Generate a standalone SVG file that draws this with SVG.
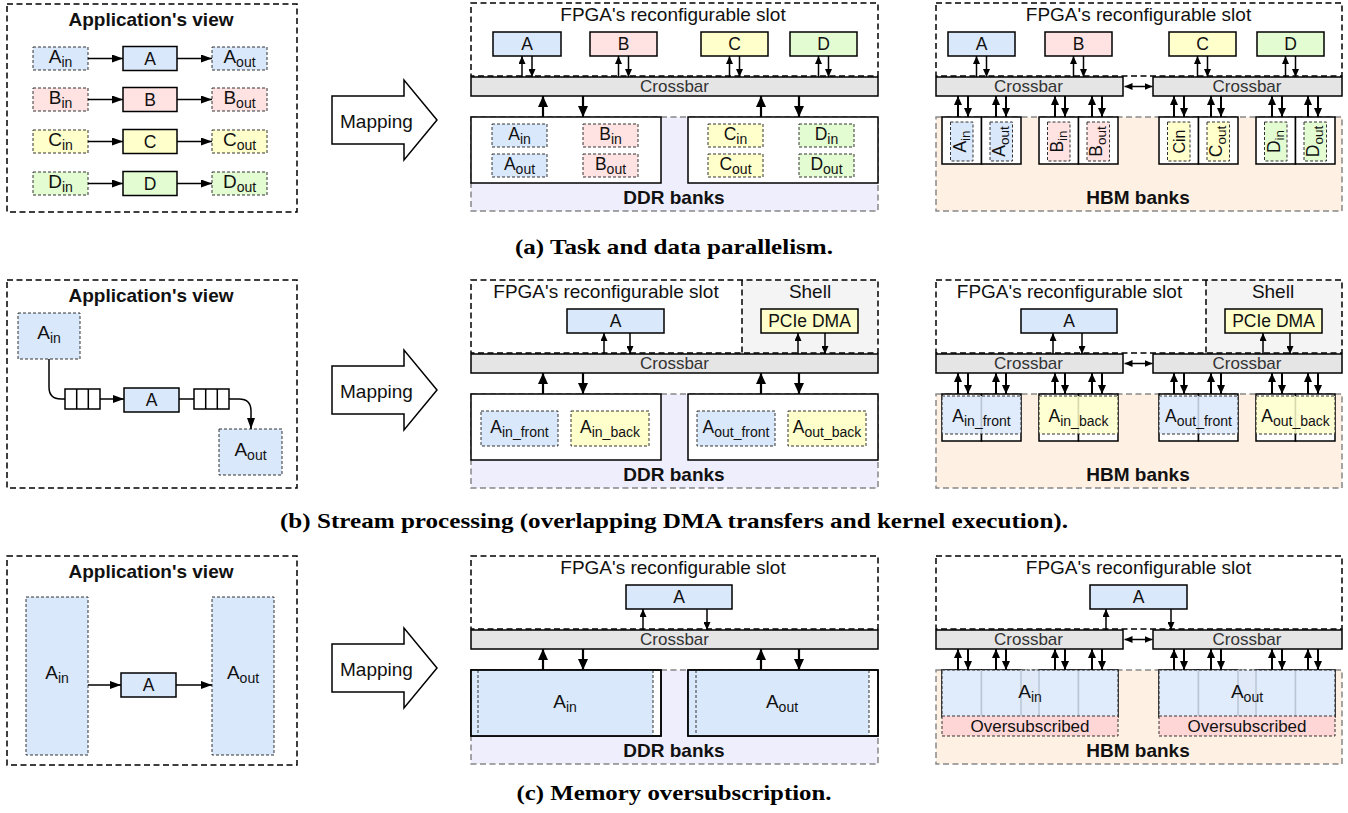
<svg xmlns="http://www.w3.org/2000/svg" width="1348" height="813" viewBox="0 0 1348 813">
<defs>
<style>
text { font-family: "Liberation Sans", Arial, sans-serif; fill: #111; }
.c { text-anchor: middle; }
.ttl { font-size: 19px; }
.bt { font-size: 19px; font-weight: bold; }
.kl { font-size: 17.5px; }
.xl { font-size: 17px; fill: #333; }
.dl { font-size: 19px; }
.ml { font-size: 17.5px; }
.sb { font-size: 14px; }
.sbs { font-size: 13.5px; }
.cap { font-family: "Liberation Serif", "Times New Roman", serif; font-size: 21px; font-weight: bold; text-anchor: middle; fill: #000; }
.view, .slot { fill: none; stroke: #000; stroke-width: 1.5; stroke-dasharray: 6 3.5; }
.view { fill: #fff; }
.ddr { fill: #eeeefc; stroke: #888; stroke-width: 1.5; stroke-dasharray: 6 3.5; }
.hbm { fill: #fff0e4; stroke: #888; stroke-width: 1.5; stroke-dasharray: 6 3.5; }
.shell { fill: #f4f4f4; }
.div { stroke: #000; stroke-width: 1.5; stroke-dasharray: 6 3.5; fill: none; }
.bank { fill: #fff; stroke: #000; stroke-width: 1.5; }
.bo { fill: none; stroke: #000; stroke-width: 1.5; }
.xbar { fill: #e5e5e5; stroke: #000; stroke-width: 1.5; }
.k { stroke: #000; stroke-width: 1.5; }
.d { stroke: #333; stroke-width: 1; stroke-dasharray: 3 2; }
.dn { fill: none; stroke: #333; stroke-width: 1; stroke-dasharray: 3 2; }
.fa { fill: #dae8fc; }
.fb { fill: #ffe3e3; }
.fc { fill: #ffffcc; }
.fd { fill: #e4fcd2; }
.fo { fill: #ffd6d6; }
.ov { fill-opacity: 0.85; }
.w { fill: #fff; }
.a1 { stroke: #000; stroke-width: 1.5; fill: none; marker-end: url(#ah); }
.a2 { stroke: #000; stroke-width: 2; fill: none; marker-end: url(#am); }
.a3 { stroke: #000; stroke-width: 2.2; fill: none; marker-end: url(#ab); }
.a4 { stroke: #000; stroke-width: 1.5; fill: none; marker-end: url(#av); }
.dbl { stroke: #000; stroke-width: 1.5; fill: none; marker-start: url(#ah); marker-end: url(#ah); }
.ln { stroke: #000; stroke-width: 1.5; fill: none; }
.map { fill: #fff; stroke: #000; stroke-width: 1.5; }
</style>
<marker id="ah" viewBox="0 0 8 7" refX="8" refY="3.5" markerWidth="8" markerHeight="7" markerUnits="userSpaceOnUse" orient="auto-start-reverse"><path d="M0,0 L8,3.5 L0,7 z" fill="#000"/></marker>
<marker id="am" viewBox="0 0 9 8" refX="9" refY="4" markerWidth="9" markerHeight="8" markerUnits="userSpaceOnUse" orient="auto"><path d="M0,0 L9,4 L0,8 z" fill="#000"/></marker>
<marker id="ab" viewBox="0 0 11 10" refX="11" refY="5" markerWidth="11" markerHeight="10" markerUnits="userSpaceOnUse" orient="auto"><path d="M0,0 L11,5 L0,10 z" fill="#000"/></marker>
<marker id="av" viewBox="0 0 11 8" refX="11" refY="4" markerWidth="11" markerHeight="8" markerUnits="userSpaceOnUse" orient="auto"><path d="M0,0 L11,4 L0,8 z" fill="#000"/></marker>
</defs>
<rect width="1348" height="813" fill="#fff"/>

<!-- ===================== (a) Task and data parallelism ===================== -->
<g id="app-a">
  <rect class="view" x="7" y="4" width="290" height="208"/>
  <text class="bt c" x="151" y="26">Application's view</text>
  <g id="a-ain"><rect class="d fa" x="33" y="47" width="55" height="23"/><text class="dl c" x="60.5" y="63">A<tspan class="sb" dy="4">in</tspan></text></g>
  <g id="a-ka"><rect class="k fa" x="123" y="46.5" width="54" height="24"/><text class="kl c" x="150" y="64.5">A</text></g>
  <g id="a-aout"><rect class="d fa" x="212" y="47" width="55" height="23"/><text class="dl c" x="239.5" y="63">A<tspan class="sb" dy="4">out</tspan></text></g>
  <g id="a-bin"><rect class="d fb" x="33" y="88" width="55" height="23"/><text class="dl c" x="60.5" y="104">B<tspan class="sb" dy="4">in</tspan></text></g>
  <g id="a-kb"><rect class="k fb" x="123" y="87.5" width="54" height="24"/><text class="kl c" x="150" y="105.5">B</text></g>
  <g id="a-bout"><rect class="d fb" x="212" y="88" width="55" height="23"/><text class="dl c" x="239.5" y="104">B<tspan class="sb" dy="4">out</tspan></text></g>
  <g id="a-cin"><rect class="d fc" x="33" y="130" width="55" height="23"/><text class="dl c" x="60.5" y="146">C<tspan class="sb" dy="4">in</tspan></text></g>
  <g id="a-kc"><rect class="k fc" x="123" y="129.5" width="54" height="24"/><text class="kl c" x="150" y="147.5">C</text></g>
  <g id="a-cout"><rect class="d fc" x="212" y="130" width="55" height="23"/><text class="dl c" x="239.5" y="146">C<tspan class="sb" dy="4">out</tspan></text></g>
  <g id="a-din"><rect class="d fd" x="33" y="172" width="55" height="23"/><text class="dl c" x="60.5" y="188">D<tspan class="sb" dy="4">in</tspan></text></g>
  <g id="a-kd"><rect class="k fd" x="123" y="171.5" width="54" height="24"/><text class="kl c" x="150" y="189.5">D</text></g>
  <g id="a-dout"><rect class="d fd" x="212" y="172" width="55" height="23"/><text class="dl c" x="239.5" y="188">D<tspan class="sb" dy="4">out</tspan></text></g>
</g>

<g id="map-a">
  <polygon class="map" points="332,96 404,96 404,80 437,120 404,160 404,144 332,144"/>
  <text class="ttl" x="340" y="128">Mapping</text>
</g>

<g id="ddr-a">
  <rect class="ddr" x="471" y="117" width="407" height="94"/>
  <rect class="slot" x="471" y="3" width="407" height="73"/>
  <text class="ttl c" x="673" y="21">FPGA's reconfigurable slot</text>
  <g id="ddr-a-ka"><rect class="k fa" x="493" y="32" width="68" height="24"/><text class="kl c" x="527" y="50">A</text></g>
  <g id="ddr-a-kb"><rect class="k fb" x="590" y="32" width="67" height="24"/><text class="kl c" x="623.5" y="50">B</text></g>
  <g id="ddr-a-kc"><rect class="k fc" x="701" y="32" width="67" height="24"/><text class="kl c" x="734.5" y="50">C</text></g>
  <g id="ddr-a-kd"><rect class="k fd" x="790" y="32" width="67" height="24"/><text class="kl c" x="823.5" y="50">D</text></g>
  <g id="ddr-a-xbar"><rect class="xbar" x="471" y="77" width="407" height="19"/><text class="xl c" x="674.5" y="92">Crossbar</text></g>
  <g id="ddr-a-bank0"><rect class="bank" x="471" y="117" width="190" height="66"/>
    <rect class="d fa" x="492" y="124" width="55" height="23"/><text class="ml c" x="519.5" y="140">A<tspan class="sb" dy="4">in</tspan></text>
    <rect class="d fa" x="492" y="154" width="55" height="23"/><text class="ml c" x="519.5" y="170">A<tspan class="sb" dy="4">out</tspan></text>
    <rect class="d fb" x="583" y="124" width="55" height="23"/><text class="ml c" x="610.5" y="140">B<tspan class="sb" dy="4">in</tspan></text>
    <rect class="d fb" x="583" y="154" width="55" height="23"/><text class="ml c" x="610.5" y="170">B<tspan class="sb" dy="4">out</tspan></text>
  </g>
  <g id="ddr-a-bank1"><rect class="bank" x="688" y="117" width="190" height="66"/>
    <rect class="d fc" x="708" y="124" width="55" height="23"/><text class="ml c" x="735.5" y="140">C<tspan class="sb" dy="4">in</tspan></text>
    <rect class="d fc" x="708" y="154" width="55" height="23"/><text class="ml c" x="735.5" y="170">C<tspan class="sb" dy="4">out</tspan></text>
    <rect class="d fd" x="799" y="124" width="55" height="23"/><text class="ml c" x="826.5" y="140">D<tspan class="sb" dy="4">in</tspan></text>
    <rect class="d fd" x="799" y="154" width="55" height="23"/><text class="ml c" x="826.5" y="170">D<tspan class="sb" dy="4">out</tspan></text>
  </g>
  <text class="bt c" x="674" y="204">DDR banks</text>
</g>

<g id="hbm-a">
  <rect class="hbm" x="936" y="117" width="406" height="94"/>
  <rect class="slot" x="936" y="3" width="406" height="73"/>
  <text class="ttl c" x="1138.5" y="21">FPGA's reconfigurable slot</text>
  <g id="hbm-a-ka"><rect class="k fa" x="948" y="32" width="67" height="24"/><text class="kl c" x="981.5" y="50">A</text></g>
  <g id="hbm-a-kb"><rect class="k fb" x="1045" y="32" width="67" height="24"/><text class="kl c" x="1078.5" y="50">B</text></g>
  <g id="hbm-a-kc"><rect class="k fc" x="1169" y="32" width="67" height="24"/><text class="kl c" x="1202.5" y="50">C</text></g>
  <g id="hbm-a-kd"><rect class="k fd" x="1257" y="32" width="67" height="24"/><text class="kl c" x="1290.5" y="50">D</text></g>
  <g id="hbm-a-xbar0"><rect class="xbar" x="936" y="77" width="187" height="19"/><text class="xl c" x="1028.5" y="92">Crossbar</text></g>
  <g id="hbm-a-xbar1"><rect class="xbar" x="1153" y="77" width="189" height="19"/><text class="xl c" x="1247" y="92">Crossbar</text></g>
  <g id="hbm-a-banks">
    <rect class="bank" x="942" y="117" width="39.5" height="47"/>
    <rect class="bank" x="981.5" y="117" width="39.5" height="47"/>
    <rect class="bank" x="1039" y="117" width="39.5" height="47"/>
    <rect class="bank" x="1078.5" y="117" width="39.5" height="47"/>
    <rect class="bank" x="1159" y="117" width="39.5" height="47"/>
    <rect class="bank" x="1198.5" y="117" width="39.5" height="47"/>
    <rect class="bank" x="1256" y="117" width="39.5" height="47"/>
    <rect class="bank" x="1295.5" y="117" width="39.5" height="47"/>
    <rect class="d fa" x="950.5" y="122" width="22.5" height="39"/>
    <rect class="d fa" x="990" y="122" width="22.5" height="39"/>
    <rect class="d fb" x="1047.5" y="122" width="22.5" height="39"/>
    <rect class="d fb" x="1087" y="122" width="22.5" height="39"/>
    <rect class="d fc" x="1167.5" y="122" width="22.5" height="39"/>
    <rect class="d fc" x="1207" y="122" width="22.5" height="39"/>
    <rect class="d fd" x="1264.5" y="122" width="22.5" height="39"/>
    <rect class="d fd" x="1304" y="122" width="22.5" height="39"/>
    <text class="ml c" transform="translate(961.75,141.5) rotate(-90)" y="4">A<tspan class="sbs" dy="4">in</tspan></text>
    <text class="ml c" transform="translate(1001.25,141.5) rotate(-90)" y="4">A<tspan class="sbs" dy="4">out</tspan></text>
    <text class="ml c" transform="translate(1058.75,141.5) rotate(-90)" y="4">B<tspan class="sbs" dy="4">in</tspan></text>
    <text class="ml c" transform="translate(1098.25,141.5) rotate(-90)" y="4">B<tspan class="sbs" dy="4">out</tspan></text>
    <text class="c" style="font-size:16px" transform="translate(1178.75,141.5) rotate(-90)" y="6">Cin</text>
    <text class="ml c" transform="translate(1218.25,141.5) rotate(-90)" y="4">C<tspan class="sbs" dy="4">out</tspan></text>
    <text class="ml c" transform="translate(1275.75,141.5) rotate(-90)" y="4">D<tspan class="sbs" dy="4">in</tspan></text>
    <text class="ml c" transform="translate(1315.25,141.5) rotate(-90)" y="4">D<tspan class="sbs" dy="4">out</tspan></text>
  </g>
  <text class="bt c" x="1138" y="204">HBM banks</text>
</g>

<text class="cap" x="674" y="254" textLength="318" lengthAdjust="spacingAndGlyphs">(a) Task and data parallelism.</text>

<!-- ===================== (b) Stream processing ===================== -->
<g id="app-b">
  <rect class="view" x="7" y="280" width="290" height="208"/>
  <text class="bt c" x="151" y="302">Application's view</text>
  <g id="b-ain"><rect class="d fa" x="18" y="313" width="62" height="46"/><text class="dl c" x="49" y="339">A<tspan class="sb" dy="4">in</tspan></text></g>
  <g id="b-q0"><rect class="ln w" x="65" y="389" width="35" height="20"/><line class="ln" x1="76.7" y1="389" x2="76.7" y2="409"/><line class="ln" x1="88.3" y1="389" x2="88.3" y2="409"/></g>
  <g id="b-ka"><rect class="k fa" x="124" y="388" width="55" height="24"/><text class="kl c" x="151.5" y="405.5">A</text></g>
  <g id="b-q1"><rect class="ln w" x="194" y="389" width="35" height="20"/><line class="ln" x1="205.7" y1="389" x2="205.7" y2="409"/><line class="ln" x1="217.3" y1="389" x2="217.3" y2="409"/></g>
  <g id="b-aout"><rect class="d fa" x="219" y="429" width="63" height="46"/><text class="dl c" x="250.5" y="456">A<tspan class="sb" dy="4">out</tspan></text></g>
</g>

<g id="map-b">
  <polygon class="map" points="332,366 404,366 404,350 437,390 404,430 404,414 332,414"/>
  <text class="ttl" x="340" y="398">Mapping</text>
</g>

<g id="ddr-b">
  <rect class="ddr" x="471" y="394" width="407" height="94"/>
  <rect class="shell" x="742" y="280" width="136" height="73"/>
  <line class="div" x1="742" y1="280" x2="742" y2="353"/>
  <rect class="slot" x="471" y="280" width="407" height="73"/>
  <text class="ttl c" x="606" y="298">FPGA's reconfigurable slot</text>
  <text class="ttl c" x="810" y="298">Shell</text>
  <g id="ddr-b-ka"><rect class="k fa" x="567" y="309" width="97" height="24"/><text class="kl c" x="615.5" y="327">A</text></g>
  <g id="ddr-b-dma"><rect class="k fc" x="761" y="309" width="97" height="24"/><text class="kl c" x="809.5" y="327">PCIe DMA</text></g>
  <g id="ddr-b-xbar"><rect class="xbar" x="471" y="354" width="407" height="19"/><text class="xl c" x="674.5" y="369">Crossbar</text></g>
  <g id="ddr-b-bank0"><rect class="bank" x="471" y="394" width="190" height="66"/>
    <rect class="d fa" x="481" y="411" width="77" height="35"/><text class="ml c" x="519.5" y="433">A<tspan class="sb" dy="4">in_front</tspan></text>
    <rect class="d fc" x="571" y="411" width="78" height="35"/><text class="ml c" x="610" y="433">A<tspan class="sb" dy="4">in_back</tspan></text>
  </g>
  <g id="ddr-b-bank1"><rect class="bank" x="688" y="394" width="190" height="66"/>
    <rect class="d fa" x="697" y="411" width="78" height="35"/><text class="ml c" x="736" y="433">A<tspan class="sb" dy="4">out_front</tspan></text>
    <rect class="d fc" x="788" y="411" width="78" height="35"/><text class="ml c" x="827" y="433">A<tspan class="sb" dy="4">out_back</tspan></text>
  </g>
  <text class="bt c" x="674" y="481">DDR banks</text>
</g>

<g id="hbm-b">
  <rect class="hbm" x="936" y="394" width="406" height="94"/>
  <rect class="shell" x="1206" y="280" width="136" height="73"/>
  <line class="div" x1="1206" y1="280" x2="1206" y2="353"/>
  <rect class="slot" x="936" y="280" width="406" height="73"/>
  <text class="ttl c" x="1069.5" y="298">FPGA's reconfigurable slot</text>
  <text class="ttl c" x="1273" y="298">Shell</text>
  <g id="hbm-b-ka"><rect class="k fa" x="1021" y="309" width="96" height="24"/><text class="kl c" x="1069" y="327">A</text></g>
  <g id="hbm-b-dma"><rect class="k fc" x="1225" y="309" width="97" height="24"/><text class="kl c" x="1273.5" y="327">PCIe DMA</text></g>
  <g id="hbm-b-xbar0"><rect class="xbar" x="936" y="354" width="187" height="19"/><text class="xl c" x="1028.5" y="369">Crossbar</text></g>
  <g id="hbm-b-xbar1"><rect class="xbar" x="1153" y="354" width="189" height="19"/><text class="xl c" x="1247" y="369">Crossbar</text></g>
  <g id="hbm-b-banks">
    <rect class="bank" x="942" y="394" width="39.5" height="47"/>
    <rect class="bank" x="981.5" y="394" width="39.5" height="47"/>
    <rect class="bank" x="1039" y="394" width="39.5" height="47"/>
    <rect class="bank" x="1078.5" y="394" width="39.5" height="47"/>
    <rect class="bank" x="1159" y="394" width="39.5" height="47"/>
    <rect class="bank" x="1198.5" y="394" width="39.5" height="47"/>
    <rect class="bank" x="1256" y="394" width="39.5" height="47"/>
    <rect class="bank" x="1295.5" y="394" width="39.5" height="47"/>
    <rect class="d fa ov" x="942" y="396" width="79" height="38"/><text class="ml c" x="981.5" y="422">A<tspan class="sb" dy="4">in_front</tspan></text>
    <rect class="d fc ov" x="1039" y="396" width="79" height="38"/><text class="ml c" x="1078.5" y="422">A<tspan class="sb" dy="4">in_back</tspan></text>
    <rect class="d fa ov" x="1159" y="396" width="79" height="38"/><text class="ml c" x="1198.5" y="422">A<tspan class="sb" dy="4">out_front</tspan></text>
    <rect class="d fc ov" x="1256" y="396" width="79" height="38"/><text class="ml c" x="1295.5" y="422">A<tspan class="sb" dy="4">out_back</tspan></text>
  </g>
  <text class="bt c" x="1138" y="481">HBM banks</text>
</g>

<text class="cap" x="674" y="528" textLength="788" lengthAdjust="spacingAndGlyphs">(b) Stream processing (overlapping DMA transfers and kernel execution).</text>

<!-- ===================== (c) Memory oversubscription ===================== -->
<g id="app-c">
  <rect class="view" x="7" y="556" width="290" height="209"/>
  <text class="bt c" x="151" y="578">Application's view</text>
  <g id="c-ain"><rect class="d fa" x="26" y="597" width="62" height="158"/><text class="dl c" x="57" y="679">A<tspan class="sb" dy="4">in</tspan></text></g>
  <g id="c-ka"><rect class="k fa" x="121" y="673" width="55" height="24"/><text class="kl c" x="148.5" y="690.5">A</text></g>
  <g id="c-aout"><rect class="d fa" x="212" y="597" width="62" height="158"/><text class="dl c" x="243" y="679">A<tspan class="sb" dy="4">out</tspan></text></g>
</g>

<g id="map-c">
  <polygon class="map" points="332,644 404,644 404,628 437,668 404,708 404,692 332,692"/>
  <text class="ttl" x="340" y="676">Mapping</text>
</g>

<g id="ddr-c">
  <rect class="ddr" x="471" y="670" width="407" height="94"/>
  <rect class="slot" x="471" y="556" width="407" height="73"/>
  <text class="ttl c" x="673" y="574">FPGA's reconfigurable slot</text>
  <g id="ddr-c-ka"><rect class="k fa" x="626" y="585" width="106" height="24"/><text class="kl c" x="679" y="603">A</text></g>
  <g id="ddr-c-xbar"><rect class="xbar" x="471" y="630" width="407" height="19"/><text class="xl c" x="674.5" y="645">Crossbar</text></g>
  <g id="ddr-c-bank0">
    <rect class="bank" x="471" y="670" width="190" height="66"/>
    <rect class="fa" x="471.75" y="670.75" width="181.25" height="64.5"/>
    <line class="dn" x1="478" y1="670" x2="478" y2="736"/>
    <line class="dn" x1="653" y1="670" x2="653" y2="736"/>
    <rect class="bo" x="471" y="670" width="190" height="66"/>
    <text class="dl c" x="565" y="708">A<tspan class="sb" dy="4">in</tspan></text>
  </g>
  <g id="ddr-c-bank1">
    <rect class="bank" x="688" y="670" width="190" height="66"/>
    <rect class="fa" x="688.75" y="670.75" width="180.25" height="64.5"/>
    <line class="dn" x1="696" y1="670" x2="696" y2="736"/>
    <line class="dn" x1="869" y1="670" x2="869" y2="736"/>
    <rect class="bo" x="688" y="670" width="190" height="66"/>
    <text class="dl c" x="782" y="708">A<tspan class="sb" dy="4">out</tspan></text>
  </g>
  <text class="bt c" x="674" y="757">DDR banks</text>
</g>

<g id="hbm-c">
  <rect class="hbm" x="936" y="670" width="406" height="94"/>
  <rect class="slot" x="936" y="556" width="406" height="73"/>
  <text class="ttl c" x="1138.5" y="574">FPGA's reconfigurable slot</text>
  <g id="hbm-c-ka"><rect class="k fa" x="1090" y="585" width="97" height="24"/><text class="kl c" x="1138.5" y="603">A</text></g>
  <g id="hbm-c-xbar0"><rect class="xbar" x="936" y="630" width="187" height="19"/><text class="xl c" x="1028.5" y="645">Crossbar</text></g>
  <g id="hbm-c-xbar1"><rect class="xbar" x="1153" y="630" width="189" height="19"/><text class="xl c" x="1247" y="645">Crossbar</text></g>
  <g id="hbm-c-banks">
    <rect class="bank" x="942" y="670" width="39.5" height="47"/>
    <rect class="bank" x="981.5" y="670" width="39.5" height="47"/>
    <rect class="bank" x="1039" y="670" width="39.5" height="47"/>
    <rect class="bank" x="1078.5" y="670" width="39.5" height="47"/>
    <rect class="bank" x="1159" y="670" width="39.5" height="47"/>
    <rect class="bank" x="1198.5" y="670" width="39.5" height="47"/>
    <rect class="bank" x="1256" y="670" width="39.5" height="47"/>
    <rect class="bank" x="1295.5" y="670" width="39.5" height="47"/>
  </g>
  <g id="hbm-c-ain">
    <rect class="fa ov" x="942" y="670" width="176" height="46"/>
    <rect class="fo" x="942" y="716" width="176" height="20"/>
    <rect class="dn" x="942" y="670" width="176" height="66"/>
    <line class="dn" x1="942" y1="716" x2="1118" y2="716"/>
    <text class="dl c" x="1030" y="698">A<tspan class="sb" dy="4">in</tspan></text>
    <text class="xl c" style="fill:#111" x="1030" y="732">Oversubscribed</text>
  </g>
  <g id="hbm-c-aout">
    <rect class="fa ov" x="1159" y="670" width="176" height="46"/>
    <rect class="fo" x="1159" y="716" width="176" height="20"/>
    <rect class="dn" x="1159" y="670" width="176" height="66"/>
    <line class="dn" x1="1159" y1="716" x2="1335" y2="716"/>
    <text class="dl c" x="1247" y="698">A<tspan class="sb" dy="4">out</tspan></text>
    <text class="xl c" style="fill:#111" x="1247" y="732">Oversubscribed</text>
  </g>
  <text class="bt c" x="1138" y="757">HBM banks</text>
</g>

<text class="cap" x="674" y="800" textLength="315" lengthAdjust="spacingAndGlyphs">(c) Memory oversubscription.</text>

<!-- ===================== connectors ===================== -->
<g id="connectors">
  <!-- (a) application view -->
  <line class="a4" x1="88" y1="58.5" x2="123" y2="58.5"/>
  <line class="a4" x1="177" y1="58.5" x2="212" y2="58.5"/>
  <line class="a4" x1="88" y1="99.5" x2="123" y2="99.5"/>
  <line class="a4" x1="177" y1="99.5" x2="212" y2="99.5"/>
  <line class="a4" x1="88" y1="141.5" x2="123" y2="141.5"/>
  <line class="a4" x1="177" y1="141.5" x2="212" y2="141.5"/>
  <line class="a4" x1="88" y1="183.5" x2="123" y2="183.5"/>
  <line class="a4" x1="177" y1="183.5" x2="212" y2="183.5"/>

  <!-- (a) DDR: kernels <-> crossbar -->
  <line class="a1" x1="522" y1="77" x2="522" y2="56"/><line class="a1" x1="532" y1="56" x2="532" y2="77"/>
  <line class="a1" x1="618.5" y1="77" x2="618.5" y2="56"/><line class="a1" x1="628.5" y1="56" x2="628.5" y2="77"/>
  <line class="a1" x1="729.5" y1="77" x2="729.5" y2="56"/><line class="a1" x1="739.5" y1="56" x2="739.5" y2="77"/>
  <line class="a1" x1="818.5" y1="77" x2="818.5" y2="56"/><line class="a1" x1="828.5" y1="56" x2="828.5" y2="77"/>
  <!-- (a) DDR: crossbar <-> banks -->
  <line class="a3" x1="543" y1="117" x2="543" y2="96"/><line class="a3" x1="583" y1="96" x2="583" y2="117"/>
  <line class="a3" x1="761" y1="117" x2="761" y2="96"/><line class="a3" x1="799" y1="96" x2="799" y2="117"/>

  <!-- (a) HBM: kernels <-> crossbars -->
  <line class="a1" x1="976.5" y1="77" x2="976.5" y2="56"/><line class="a1" x1="986.5" y1="56" x2="986.5" y2="77"/>
  <line class="a1" x1="1073.5" y1="77" x2="1073.5" y2="56"/><line class="a1" x1="1083.5" y1="56" x2="1083.5" y2="77"/>
  <line class="a1" x1="1197.5" y1="77" x2="1197.5" y2="56"/><line class="a1" x1="1207.5" y1="56" x2="1207.5" y2="77"/>
  <line class="a1" x1="1285.5" y1="77" x2="1285.5" y2="56"/><line class="a1" x1="1295.5" y1="56" x2="1295.5" y2="77"/>
  <line class="dbl" x1="1124.5" y1="86.5" x2="1152.5" y2="86.5"/>
  <!-- (a) HBM: crossbars <-> banks -->
  <line class="a2" x1="958" y1="117" x2="958" y2="96"/><line class="a2" x1="968" y1="96" x2="968" y2="117"/>
  <line class="a2" x1="996" y1="117" x2="996" y2="96"/><line class="a2" x1="1006" y1="96" x2="1006" y2="117"/>
  <line class="a2" x1="1055" y1="117" x2="1055" y2="96"/><line class="a2" x1="1065" y1="96" x2="1065" y2="117"/>
  <line class="a2" x1="1092" y1="117" x2="1092" y2="96"/><line class="a2" x1="1102" y1="96" x2="1102" y2="117"/>
  <line class="a2" x1="1174" y1="117" x2="1174" y2="96"/><line class="a2" x1="1184" y1="96" x2="1184" y2="117"/>
  <line class="a2" x1="1211" y1="117" x2="1211" y2="96"/><line class="a2" x1="1221" y1="96" x2="1221" y2="117"/>
  <line class="a2" x1="1272" y1="117" x2="1272" y2="96"/><line class="a2" x1="1282" y1="96" x2="1282" y2="117"/>
  <line class="a2" x1="1308" y1="117" x2="1308" y2="96"/><line class="a2" x1="1318" y1="96" x2="1318" y2="117"/>

  <!-- (b) application view -->
  <path class="ln" d="M49,359 V387 Q49,399 61,399 H65"/>
  <line class="a4" x1="100" y1="399" x2="124" y2="399"/>
  <line class="ln" x1="179" y1="399" x2="194" y2="399"/>
  <path class="a4" d="M229,399 H239 Q251,399 251,411 V429"/>

  <!-- (b) DDR -->
  <line class="a1" x1="604" y1="354" x2="604" y2="333"/><line class="a1" x1="630" y1="333" x2="630" y2="354"/>
  <line class="a1" x1="798" y1="354" x2="798" y2="333"/><line class="a1" x1="825" y1="333" x2="825" y2="354"/>
  <line class="a3" x1="543" y1="394" x2="543" y2="373"/><line class="a3" x1="583" y1="373" x2="583" y2="394"/>
  <line class="a3" x1="761" y1="394" x2="761" y2="373"/><line class="a3" x1="799" y1="373" x2="799" y2="394"/>

  <!-- (b) HBM -->
  <line class="a1" x1="1053" y1="354" x2="1053" y2="333"/><line class="a1" x1="1082" y1="333" x2="1082" y2="354"/>
  <line class="a1" x1="1263" y1="354" x2="1263" y2="333"/><line class="a1" x1="1290" y1="333" x2="1290" y2="354"/>
  <line class="dbl" x1="1124.5" y1="363.5" x2="1152.5" y2="363.5"/>
  <line class="a2" x1="958" y1="394" x2="958" y2="373"/><line class="a2" x1="968" y1="373" x2="968" y2="394"/>
  <line class="a2" x1="996" y1="394" x2="996" y2="373"/><line class="a2" x1="1006" y1="373" x2="1006" y2="394"/>
  <line class="a2" x1="1055" y1="394" x2="1055" y2="373"/><line class="a2" x1="1065" y1="373" x2="1065" y2="394"/>
  <line class="a2" x1="1092" y1="394" x2="1092" y2="373"/><line class="a2" x1="1102" y1="373" x2="1102" y2="394"/>
  <line class="a2" x1="1174" y1="394" x2="1174" y2="373"/><line class="a2" x1="1184" y1="373" x2="1184" y2="394"/>
  <line class="a2" x1="1211" y1="394" x2="1211" y2="373"/><line class="a2" x1="1221" y1="373" x2="1221" y2="394"/>
  <line class="a2" x1="1272" y1="394" x2="1272" y2="373"/><line class="a2" x1="1282" y1="373" x2="1282" y2="394"/>
  <line class="a2" x1="1308" y1="394" x2="1308" y2="373"/><line class="a2" x1="1318" y1="373" x2="1318" y2="394"/>

  <!-- (c) application view -->
  <line class="a4" x1="88" y1="685" x2="121" y2="685"/>
  <line class="a4" x1="176" y1="685" x2="212" y2="685"/>

  <!-- (c) DDR -->
  <line class="a1" x1="643" y1="630" x2="643" y2="609"/><line class="a1" x1="707" y1="609" x2="707" y2="630"/>
  <line class="a3" x1="543" y1="670" x2="543" y2="649"/><line class="a3" x1="583" y1="649" x2="583" y2="670"/>
  <line class="a3" x1="761" y1="670" x2="761" y2="649"/><line class="a3" x1="799" y1="649" x2="799" y2="670"/>

  <!-- (c) HBM -->
  <line class="a1" x1="1106" y1="630" x2="1106" y2="609"/><line class="a1" x1="1171" y1="609" x2="1171" y2="630"/>
  <line class="dbl" x1="1124.5" y1="639.5" x2="1152.5" y2="639.5"/>
  <line class="a2" x1="958" y1="670" x2="958" y2="649"/><line class="a2" x1="968" y1="649" x2="968" y2="670"/>
  <line class="a2" x1="996" y1="670" x2="996" y2="649"/><line class="a2" x1="1006" y1="649" x2="1006" y2="670"/>
  <line class="a2" x1="1055" y1="670" x2="1055" y2="649"/><line class="a2" x1="1065" y1="649" x2="1065" y2="670"/>
  <line class="a2" x1="1092" y1="670" x2="1092" y2="649"/><line class="a2" x1="1102" y1="649" x2="1102" y2="670"/>
  <line class="a2" x1="1174" y1="670" x2="1174" y2="649"/><line class="a2" x1="1184" y1="649" x2="1184" y2="670"/>
  <line class="a2" x1="1211" y1="670" x2="1211" y2="649"/><line class="a2" x1="1221" y1="649" x2="1221" y2="670"/>
  <line class="a2" x1="1272" y1="670" x2="1272" y2="649"/><line class="a2" x1="1282" y1="649" x2="1282" y2="670"/>
  <line class="a2" x1="1308" y1="670" x2="1308" y2="649"/><line class="a2" x1="1318" y1="649" x2="1318" y2="670"/>
</g>
</svg>
